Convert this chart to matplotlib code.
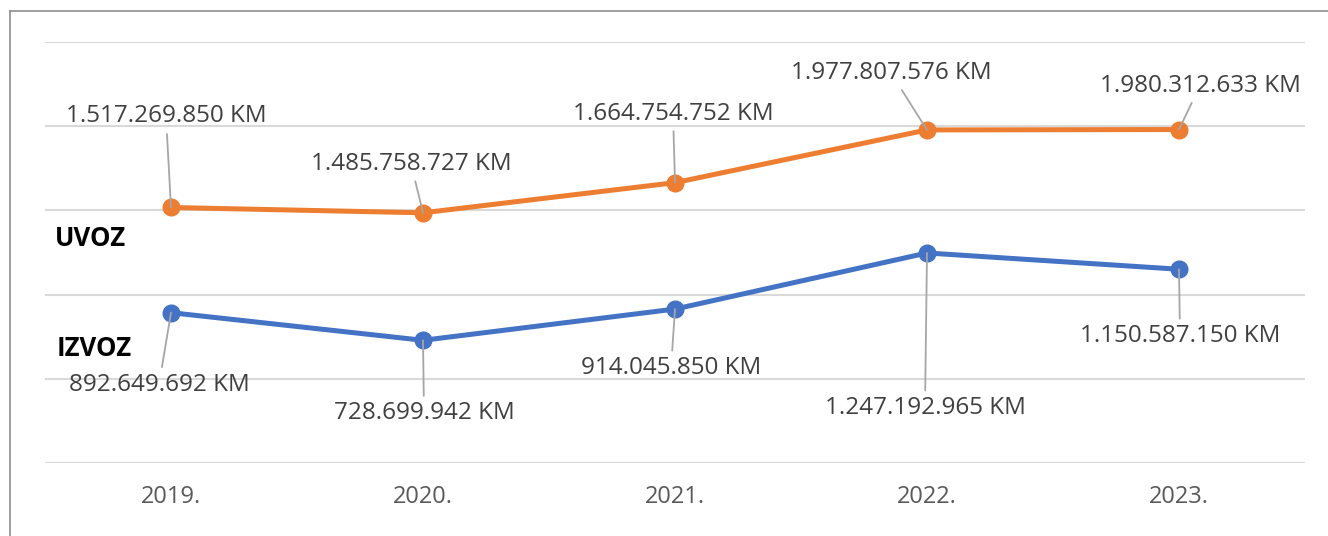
import matplotlib.pyplot as plt
from matplotlib.lines import Line2D

plt.rcParams['font.family'] = ['Open Sans', 'DejaVu Sans']

years = ["2019.", "2020.", "2021.", "2022.", "2023."]
uvoz = [1517269850, 1485758727, 1664754752, 1977807576, 1980312633]
izvoz = [892649692, 728699942, 914045850, 1247192965, 1150587150]

# label offsets in pixels (x, y) from each point
uvoz_off = [(-5, 91), (-12, 49), (-2, 69), (-36, 57), (21, 44)]
izvoz_off = [(-12, -72), (1, -73), (-4, -59), (-2, -155), (1, -67)]


def fmt(v):
    return f"{v:,}".replace(",", ".") + " KM"


fig = plt.figure(figsize=(13.28, 5.36), dpi=100)
ax = fig.add_axes([45 / 1328, 73 / 536, 1260 / 1328, 421 / 536])

x = range(len(years))
ax.plot(x, uvoz, color="#ED7D31", lw=3.6, marker="o", ms=12, zorder=3)
ax.plot(x, izvoz, color="#4472C4", lw=3.6, marker="o", ms=12, zorder=3)

for vals, offs in [(uvoz, uvoz_off), (izvoz, izvoz_off)]:
    for i, (v, off) in enumerate(zip(vals, offs)):
        ax.annotate(fmt(v), (i, v), xytext=off, textcoords="offset pixels",
                    ha="center", va="center", fontsize=17.5, color="#404040",
                    arrowprops=dict(arrowstyle="-", color="#A6A6A6", lw=1.3,
                                    shrinkA=2, shrinkB=0), zorder=4)

ax.set_xlim(-0.5, 4.5)
ax.set_ylim(0, 2500000000)
ax.set_yticks(range(0, 2500000001, 500000000))
ax.set_yticklabels([])
ax.set_xticks(list(x))
ax.set_xticklabels(years, fontsize=17, color="#595959")
ax.tick_params(length=0, pad=16)
ax.grid(axis="y", color="#D9D9D9", lw=1.5)
ax.set_axisbelow(True)
for s in ax.spines.values():
    s.set_visible(False)

fig.text(55 / 1328, 1 - 238 / 536, "UVOZ", fontsize=18.5, fontweight="bold", va="center")
fig.text(57 / 1328, 1 - 348 / 536, "IZVOZ", fontsize=18.5, fontweight="bold", va="center")

# outer frame
fig.add_artist(Line2D([10 / 1328, 1], [1 - 11 / 536] * 2, color="#8C8C8C", lw=1.2))
fig.add_artist(Line2D([10 / 1328] * 2, [0, 1 - 11 / 536], color="#8C8C8C", lw=1.2))

fig.savefig("out.png", dpi=100)
